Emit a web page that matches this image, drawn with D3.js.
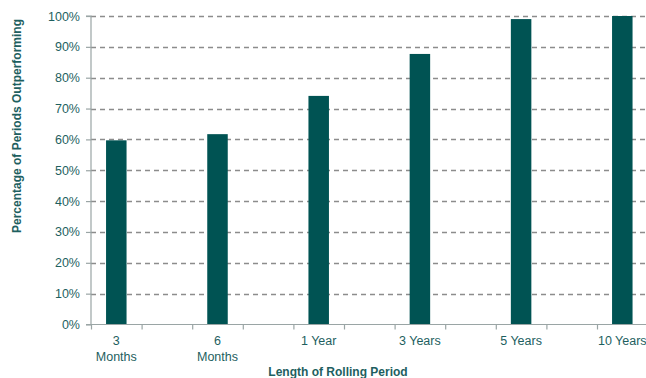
<!DOCTYPE html>
<html>
<head>
<meta charset="utf-8">
<script src="https://cdn.jsdelivr.net/npm/d3@7"></script>
<style>
  html, body { margin: 0; padding: 0; background: #fff; }
  svg { display: block; font-family: "Liberation Sans", Arial, sans-serif; }
</style>
</head>
<body>
<svg id="chart" width="646" height="378"></svg>
<script>
// Rolling-period outperformance
const categories = [["3", "Months"], ["6", "Months"], ["1 Year"], ["3 Years"], ["5 Years"], ["10 Years"]];
const values = [59.7, 61.7, 74.1, 87.7, 99.0, 100];
const yTicks = [0, 10, 20, 30, 40, 50, 60, 70, 80, 90, 100];
const slotCount = 12; // each category sits in every other slot

const svg = d3.select("#chart");
const W = 646;
const plotLeft = 91, plotTop = 16, plotBottom = 324.5;
const slot = 50.6;

const x = d3.scaleLinear().domain([0, slotCount]).range([plotLeft, plotLeft + slot * slotCount]);
const y = d3.scaleLinear().domain([0, 100]).range([plotBottom, plotTop]);

const teal = "#005353";
const textCol = "#1e5f5f";

// dashed gridlines
svg.append("g")
  .selectAll("line")
  .data(yTicks.filter(d => d > 0))
  .join("line")
  .attr("x1", plotLeft).attr("x2", W)
  .attr("y1", d => Math.round(y(d)) + 0.5).attr("y2", d => Math.round(y(d)) + 0.5)
  .attr("stroke", "#8c8c8c")
  .attr("stroke-width", 1.3)
  .attr("stroke-dasharray", "5,4");

// bars
const barW = 20.5;
svg.append("g")
  .selectAll("rect")
  .data(values)
  .join("rect")
  .attr("x", (d, i) => x(i * 2 + 0.5) - barW / 2)
  .attr("width", barW)
  .attr("y", d => y(d))
  .attr("height", d => y(0) - y(d))
  .attr("fill", teal);

// y axis
const yAxis = d3.axisLeft(y).tickValues(yTicks).tickFormat(d => d + "%").tickSize(5).tickPadding(6);
const gy = svg.append("g").attr("transform", `translate(${plotLeft},0)`).call(yAxis);
gy.select(".domain").attr("stroke", "#9aa5a5").attr("stroke-width", 1.2).attr("d", `M-5,${plotTop}H0V${plotBottom}H-5`);
gy.selectAll(".tick line").attr("stroke", "#9aa5a5").attr("stroke-width", 1.2);
gy.selectAll(".tick text").attr("fill", textCol).attr("font-size", 12.5)
  .attr("font-family", "Liberation Sans, Arial, sans-serif");

// x axis
const xAxis = d3.axisBottom(x).tickValues(d3.range(0, slotCount + 1)).tickFormat("").tickSize(5);
const gx = svg.append("g").attr("transform", `translate(0,${plotBottom})`).call(xAxis);
gx.select(".domain").attr("stroke", "#9aa5a5").attr("stroke-width", 1.2).attr("d", `M${plotLeft},0H${W}`);
gx.selectAll(".tick line").attr("stroke", "#9aa5a5").attr("stroke-width", 1.2);

// category labels
const lab = svg.append("g")
  .selectAll("text")
  .data(categories)
  .join("text")
  .attr("x", (d, i) => x(i * 2 + 0.5))
  .attr("y", 345)
  .attr("text-anchor", "middle")
  .attr("fill", textCol)
  .attr("font-size", 12.5);
lab.selectAll("tspan")
  .data(d => d)
  .join("tspan")
  .attr("x", function () { return d3.select(this.parentNode).attr("x"); })
  .attr("dy", (d, i) => i === 0 ? 0 : 15.5)
  .text(d => d);

// axis titles
svg.append("text")
  .attr("x", 338).attr("y", 376)
  .attr("text-anchor", "middle")
  .attr("fill", textCol)
  .attr("font-size", 12)
  .attr("font-weight", "bold")
  .text("Length of Rolling Period");

svg.append("text")
  .attr("transform", "translate(21,126) rotate(-90)")
  .attr("text-anchor", "middle")
  .attr("fill", textCol)
  .attr("font-size", 12)
  .attr("font-weight", "bold")
  .text("Percentage of Periods Outperforming");
</script>
</body>
</html>
